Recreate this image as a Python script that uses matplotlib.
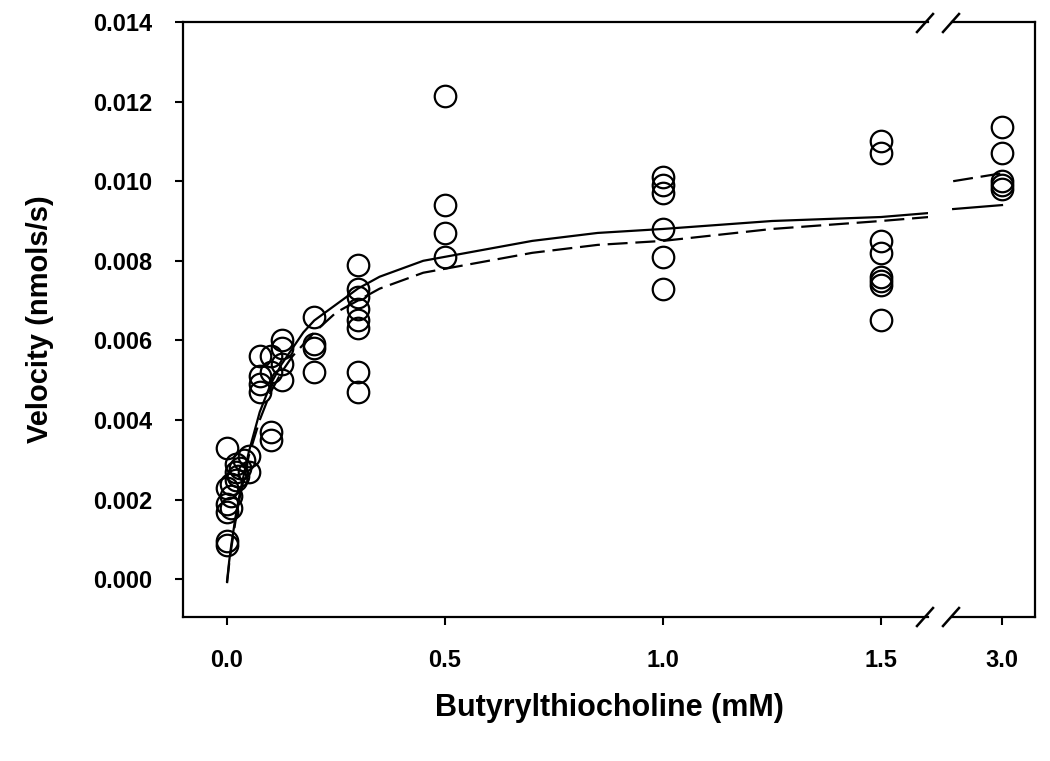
import matplotlib
matplotlib.use("Agg")
import matplotlib.pyplot as plt

plt.rcParams['font.family'] = ['Liberation Sans', 'DejaVu Sans']
plt.rcParams['font.weight'] = 'bold'

# ---- data ----
x_low = [0.0, 0.0, 0.0, 0.0, 0.0, 0.0,
         0.01, 0.01, 0.01, 0.02, 0.02, 0.02,
         0.025, 0.03, 0.04, 0.05, 0.05,
         0.075, 0.075, 0.075, 0.075,
         0.1, 0.1, 0.1, 0.1,
         0.125, 0.125, 0.125, 0.125,
         0.2, 0.2, 0.2, 0.2,
         0.3, 0.3, 0.3, 0.3, 0.3, 0.3, 0.3, 0.3,
         0.5, 0.5, 0.5, 0.5,
         1.0, 1.0, 1.0, 1.0, 1.0, 1.0,
         1.5, 1.5, 1.5, 1.5, 1.5, 1.5, 1.5, 1.5]
v_low = [0.00085, 0.00095, 0.0017, 0.0019, 0.0023, 0.0033,
         0.0018, 0.0021, 0.0024, 0.0025, 0.0027, 0.0029,
         0.0026, 0.0028, 0.0030, 0.0027, 0.0031,
         0.0056, 0.0051, 0.0047, 0.0049,
         0.0056, 0.0037, 0.0035, 0.0052,
         0.0060, 0.0058, 0.0054, 0.0050,
         0.0066, 0.0059, 0.0058, 0.0052,
         0.0079, 0.0073, 0.0071, 0.0068, 0.0065, 0.0063, 0.0052, 0.0047,
         0.01215, 0.0094, 0.0087, 0.0081,
         0.0101, 0.0099, 0.0097, 0.0088, 0.0081, 0.0073,
         0.0110, 0.0107, 0.0085, 0.0082, 0.0076, 0.0075, 0.0074, 0.0065]

x_high = [3.0, 3.0, 3.0, 3.0, 3.0]
v_high = [0.01135, 0.0107, 0.0100, 0.0099, 0.0098]

# fitted curves
fit_x = [0.0, 0.005, 0.01, 0.02, 0.03, 0.05, 0.075, 0.1, 0.125, 0.15, 0.175,
         0.2, 0.25, 0.3, 0.35, 0.4, 0.45, 0.5, 0.6, 0.7, 0.85, 1.0, 1.25,
         1.5, 1.61]
fit_solid = [-0.00005, 0.00046, 0.00088, 0.0016, 0.0022, 0.0032, 0.0042, 0.0049,
             0.0054, 0.0058, 0.0062, 0.0065, 0.0069, 0.0073, 0.0076, 0.0078,
             0.0080, 0.0081, 0.0083, 0.0085, 0.0087, 0.0088, 0.0090, 0.0091,
             0.0092]
fit_dashed = [-0.0001, 0.0004, 0.0008, 0.0015, 0.0021, 0.0031, 0.0040, 0.0047,
              0.0052, 0.0056, 0.0059, 0.0062, 0.0067, 0.0070, 0.0073, 0.0075,
              0.0077, 0.0078, 0.0080, 0.0082, 0.0084, 0.0085, 0.0088, 0.0090,
              0.0091]

fit_x_high = [2.888, 3.0]
fit_solid_high = [0.0093, 0.0094]
fit_dashed_high = [0.0100, 0.0102]

x_ticks_low = [0.0, 0.5, 1.0, 1.5]
x_ticks_high = [3.0]
y_ticks = [0.000, 0.002, 0.004, 0.006, 0.008, 0.010, 0.012, 0.014]

# ---- figure ----
W, H = 1050, 761
fig = plt.figure(figsize=(W / 100, H / 100), dpi=100)

L, R_low, L_high, R = 183, 928, 952, 1035
TOP, BOT = 22, 617
ax1 = fig.add_axes([L / W, (H - BOT) / H, (R_low - L) / W, (BOT - TOP) / H])
ax2 = fig.add_axes([L_high / W, (H - BOT) / H, (R - L_high) / W, (BOT - TOP) / H])

ylim = (-0.00095, 0.014)
mk = dict(marker='o', linestyle='none', markersize=15.5, markerfacecolor='none',
          markeredgecolor='black', markeredgewidth=1.6)

for ax in (ax1, ax2):
    ax.set_ylim(*ylim)
    for s in ax.spines.values():
        s.set_linewidth(1.6)
    ax.tick_params(direction='out', length=6, width=1.5, labelsize=17)

ax1.plot(fit_x, fit_solid, color='black', lw=1.6, zorder=3)
ax1.plot(fit_x, fit_dashed, color='black', lw=1.6, dashes=(9, 3.5), zorder=3)
ax1.plot(x_low, v_low, **mk, zorder=4)
ax1.set_xlim(-0.101, (R_low - 227) / 436)
ax1.set_xticks(x_ticks_low)
ax1.set_xticklabels([f"{t:.1f}" for t in x_ticks_low])
ax1.set_yticks(y_ticks)
ax1.set_yticklabels([f"{t:.3f}" for t in y_ticks])
ax1.spines['right'].set_visible(False)
ax1.tick_params(axis='y', pad=16)
ax1.tick_params(axis='x', pad=17)

ax2.plot(fit_x_high, fit_solid_high, color='black', lw=1.6, zorder=3)
ax2.plot(fit_x_high, fit_dashed_high, color='black', lw=1.6, dashes=(9, 3.5), zorder=3)
ax2.plot(x_high, v_high, **mk, zorder=4)
ax2.set_xlim(3.0 - (1002 - L_high) / 436, 3.0 + (R - 1002) / 436)
ax2.set_xticks(x_ticks_high)
ax2.set_xticklabels([f"{t:.1f}" for t in x_ticks_high])
ax2.spines['left'].set_visible(False)
ax2.set_yticks([])
ax2.tick_params(axis='x', pad=17)

# break marks
for xc in (925, 951):
    for yc in (TOP + 1, BOT):
        x0, x1 = xc - 8, xc + 8
        fig.add_artist(plt.Line2D([x0 / W, x1 / W], [(H - yc - 9) / H, (H - yc + 9) / H],
                                  color='black', lw=1.8, transform=fig.transFigure))

fig.text((L + R) / 2 / W, 1 - 708 / H, 'Butyrylthiocholine (mM)', ha='center',
         va='center', fontsize=22, fontweight='bold')
fig.text(40 / W, 1 - (TOP + BOT) / 2 / H, 'Velocity (nmols/s)', ha='center',
         va='center', rotation=90, fontsize=21, fontweight='bold')

fig.savefig('out.png', dpi=100)
